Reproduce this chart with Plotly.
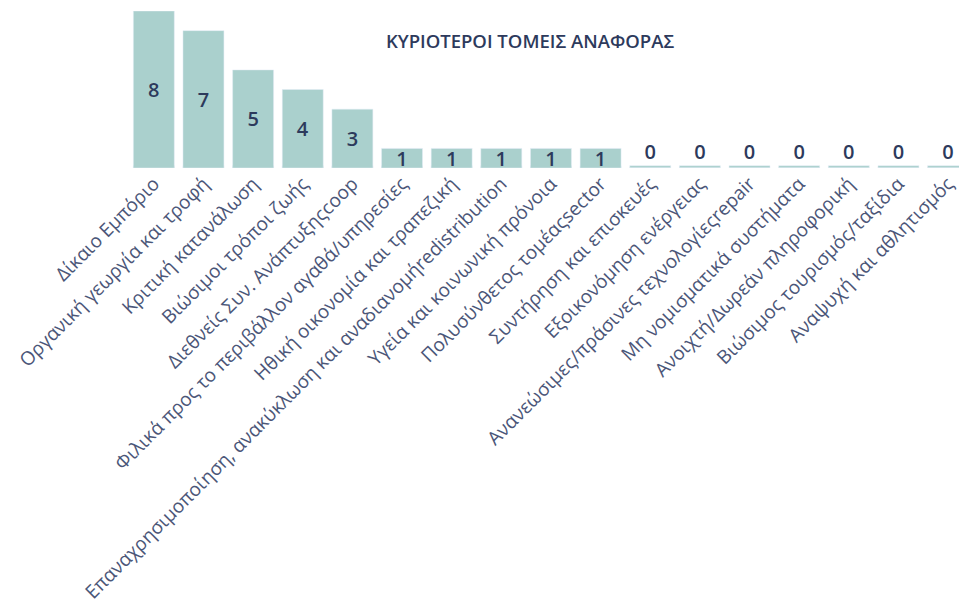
import plotly.graph_objects as go

categories = [
    "Δίκαιο Εμπόριο",
    "Οργανική γεωργία και τροφή",
    "Κριτική κατανάλωση",
    "Βιώσιμοι τρόποι ζωής",
    "Διεθνείς Συν. Ανάπτυξηςcoop",
    "Φιλικά προς το περιβάλλον αγαθά/υπηρεσίες",
    "Ηθική οικονομία και τραπεζική",
    "Επαναχρησιμοποίηση, ανακύκλωση και αναδιανομήredistribution",
    "Υγεία και κοινωνική πρόνοια",
    "Πολυσύνθετος τομέαςsector",
    "Συντήρηση και επισκευές",
    "Εξοικονόμηση ενέργειας",
    "Ανανεώσιμες/πράσινες τεχνολογίεςrepair",
    "Μη νομισματικά συστήματα",
    "Ανοιχτή/Δωρεάν πληροφορική",
    "Βιώσιμος τουρισμός/ταξίδια",
    "Αναψυχή και αθλητισμός",
]
values = [8, 7, 5, 4, 3, 1, 1, 1, 1, 1, 0, 0, 0, 0, 0, 0, 0]
title_text = "ΚΥΡΙΟΤΕΡΟΙ ΤΟΜΕΙΣ ΑΝΑΦΟΡΑΣ"

BAR = "#AAD0CD"
DARK = "#2D3A5C"
TICK = "#4B5678"
FONT = "Open Sans"
LINE_H = 0.12  # thickness of the baseline stub drawn under each category

W, H = 959, 607

fig = go.Figure()
fig.add_trace(go.Bar(
    x=categories, y=[LINE_H] * len(categories), marker_color=BAR,
    hoverinfo="skip", showlegend=False,
))
fig.add_trace(go.Bar(
    x=categories, y=values, marker_color=BAR,
    text=[str(v) for v in values],
    textposition=["inside" if v > 0 else "outside" for v in values],
    insidetextanchor="middle",
    constraintext="none",
    textangle=0,
    textfont=dict(family=FONT, size=20, color=DARK, weight=600),
    cliponaxis=False, showlegend=False,
))

fig.update_layout(
    width=W, height=H,
    margin=dict(l=129, r=0, t=11, b=439),
    paper_bgcolor="white", plot_bgcolor="white",
    barmode="overlay", bargap=0.175,
    title=dict(
        text=title_text, x=530 / W, y=1 - 42 / H,
        xref="container", yref="container", xanchor="center", yanchor="middle",
        font=dict(family=FONT, size=18.5, color=DARK, weight=600),
    ),
    xaxis=dict(
        tickangle=-45, showgrid=False, zeroline=False, showline=False,
        ticks="", range=[-0.5, 16.22],
        tickfont=dict(family=FONT, size=19, color=TICK, weight=500),
        automargin=False,
    ),
    yaxis=dict(range=[0, 8], visible=False, fixedrange=True),
)

fig.write_html(
    "out.html",
    config={"displayModeBar": False},
    post_script="document.body.style.margin='0';document.body.style.overflow='hidden';",
)
